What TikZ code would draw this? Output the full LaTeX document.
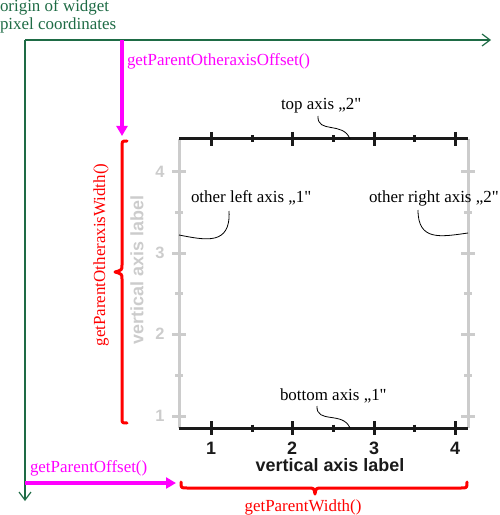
\documentclass[tikz,border=0pt]{standalone}
\usepackage{fontspec}
\setmainfont{Liberation Serif}[Ligatures=TeXOff]
\setsansfont{Liberation Sans}
\usetikzlibrary{arrows.meta}
\definecolor{dgreen}{HTML}{1E6B45}
\definecolor{axgray}{HTML}{CCCCCC}
\definecolor{axblack}{HTML}{1A1A1A}
\definecolor{mag}{HTML}{FF00FF}
\definecolor{brred}{HTML}{FF0000}
\begin{document}
\begin{tikzpicture}[x=1bp,y=-1bp,
  serif/.style={font=\fontsize{17}{17}\selectfont, inner sep=0pt, outer sep=0pt},
  sanslbl/.style={font=\sffamily\bfseries\fontsize{18}{18}\selectfont, inner sep=0pt},
  graydigit/.style={font=\sffamily\bfseries\fontsize{16.5}{16.5}\selectfont, inner sep=0pt},
  greenaxis/.style={draw=dgreen, line width=1.4bp, -{Straight Barb[length=8bp,width=12bp,line width=1.2bp]}},
  magarrow/.style={draw=mag, line width=4bp, -{Triangle[length=10bp,width=11bp]}},
  bracestyle/.style={draw=brred, line width=3bp, line cap=round, line join=round},
  blackaxis/.style={draw=axblack, line width=3bp},
  grayaxis/.style={draw=axgray, line width=3bp},
  callout/.style={draw=black, line width=0.8bp}]
\useasboundingbox (0,0) rectangle (500,515);

% origin and widget coordinate axes
\node[serif, text=dgreen, align=left, anchor=north west] (orig) at (0,0) {origin of widget\\[1bp]pixel coordinates};
\coordinate (O) at (25,40);
\coordinate (Xend) at (491,40);
\coordinate (Yend) at (25,501);
\draw[greenaxis] (O) -- (Xend);
\draw[greenaxis] (O) -- (Yend);

% gray (other) axes
\coordinate (TL) at (179,139);
\coordinate (TR) at (468,139);
\coordinate (BL) at (179,428);
\coordinate (BR) at (468,428);
\draw[grayaxis] (TL) -- (BL);
\draw[grayaxis] (TR) -- (BR);
\foreach \yy/\lab in {172/4,253/3,334/2,416/1}{
  \draw[grayaxis] (172,\yy) -- (186,\yy);
  \draw[grayaxis] (461,\yy) -- (475,\yy);
  \node[graydigit, text=axgray] (gl\lab) at (160,\yy) {\lab};
}
\foreach \yy in {212,293,375}{
  \draw[grayaxis] (175,\yy) -- (183,\yy);
  \draw[grayaxis] (464,\yy) -- (472,\yy);
}
\node[sanslbl, text=axgray, rotate=90] (glabel) at (137,270) {vertical axis label};

% black axes
\draw[blackaxis] (TL) -- (TR);
\draw[blackaxis] (BL) -- (BR);
\foreach \xx/\lab in {211/1,292/2,374/3,455/4}{
  \draw[blackaxis] (\xx,132) -- (\xx,146);
  \draw[blackaxis] (\xx,421) -- (\xx,435);
  \node[sanslbl, text=axblack] (bl\lab) at (\xx,448) {\lab};
}
\foreach \xx in {252,333,414}{
  \draw[blackaxis] (\xx,135.5) -- (\xx,142.5);
  \draw[blackaxis] (\xx,424.5) -- (\xx,431.5);
}
\node[sanslbl, text=axblack] (blabel) at (330,465) {vertical axis label};

% annotations
\node[serif, anchor=base west] (topax) at (281,110) {top axis „2"};
\coordinate (topaxA) at (318,116);
\coordinate (topaxB) at (350,139);
\draw[callout] (topaxA) .. controls (317,134) and (343,121) .. (topaxB);

\node[serif, anchor=base west] (botax) at (280,400) {bottom axis „1"};
\coordinate (botaxA) at (317,406);
\coordinate (botaxB) at (350,428);
\draw[callout] (botaxA) .. controls (316,424) and (343,411) .. (botaxB);

\node[serif, anchor=base west] (leftax) at (191,203) {other left axis „1"};
\coordinate (leftaxA) at (229,211);
\coordinate (leftaxB) at (179,235);
\draw[callout] (leftaxA) .. controls (231,246) and (205,240) .. (leftaxB);

\node[serif, anchor=base west] (rightax) at (369,203) {other right axis „2"};
\coordinate (rightaxA) at (418,210);
\coordinate (rightaxB) at (468,233);
\draw[callout] (rightaxA) .. controls (418,241) and (440,237) .. (rightaxB);

% magenta offset arrows
\coordinate (moTop) at (122,40);
\coordinate (moTopEnd) at (122,136);
\draw[magarrow] (moTop) -- (moTopEnd);
\node[serif, text=mag, anchor=base west] (offlbl) at (127,66) {getParentOtheraxisOffset()};

\coordinate (moLeft) at (25,483);
\coordinate (moLeftEnd) at (176,483);
\draw[magarrow] (moLeft) -- (moLeftEnd);
\node[serif, text=mag, anchor=base west] (pofflbl) at (30,472) {getParentOffset()};

% red braces
\draw[bracestyle] (127,141) .. controls (122,141) .. (122,147) -- (122,265)
   .. controls (122,270) .. (115,272) .. controls (122,274) .. (122,279)
   -- (122,418) .. controls (122,423) .. (127,423);
\node[serif, text=brred, rotate=90] (owlbl) at (101,255) {getParentOtheraxisWidth()};

\draw[bracestyle] (181,482) .. controls (181,488) .. (187,488) -- (308,488)
   .. controls (314,488) .. (315,494) .. controls (316,488) .. (322,488)
   -- (461,488) .. controls (467,488) .. (467,482);
\node[serif, text=brred, anchor=base] (pwlbl) at (303,511) {getParentWidth()};
\end{tikzpicture}
\end{document}
